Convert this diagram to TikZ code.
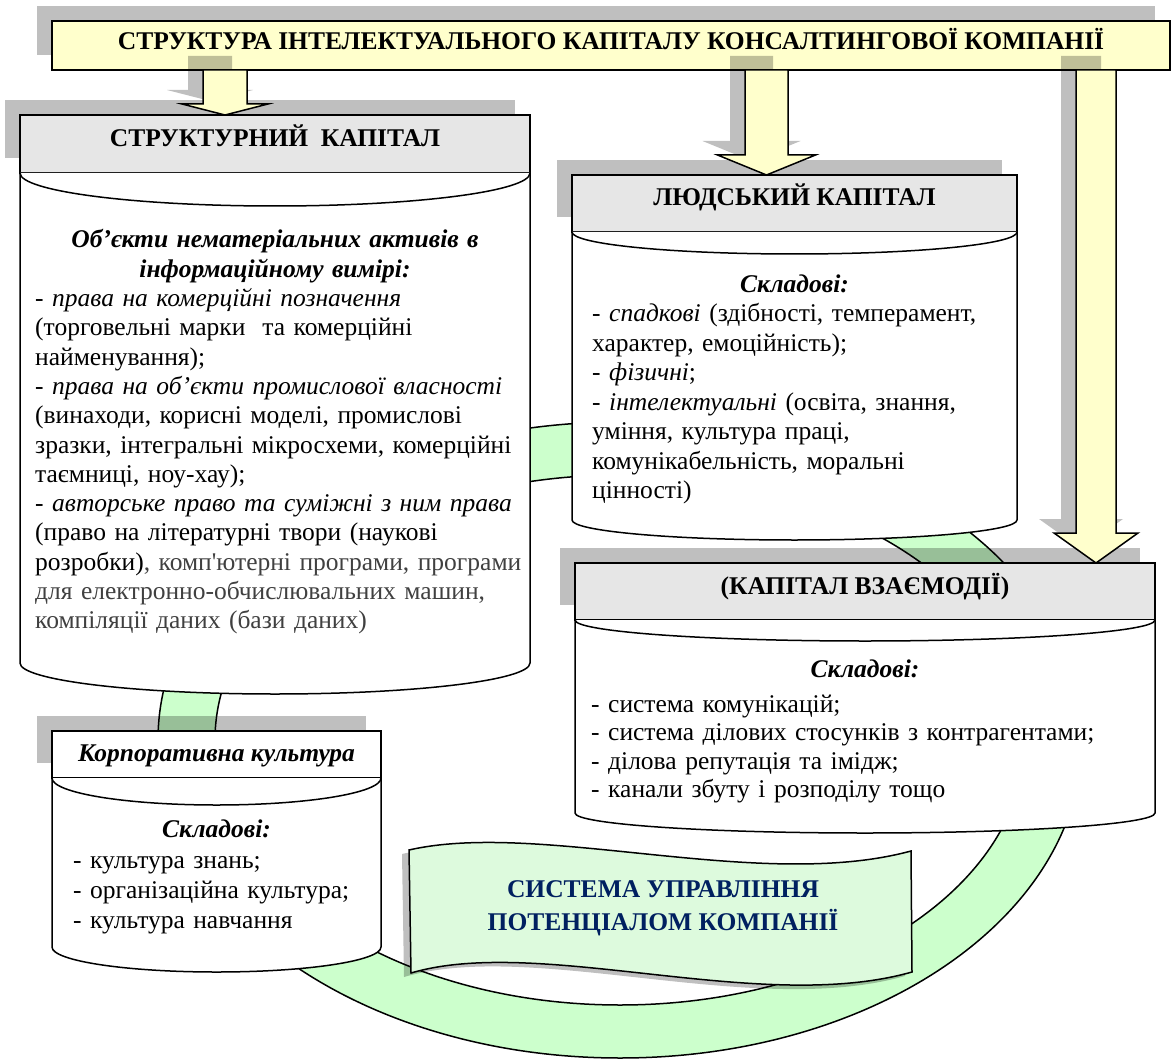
\documentclass[tikz,border=0pt]{standalone}
\usepackage{fontspec}
\setmainfont{Liberation Serif}
\usetikzlibrary{shadows,calc}

\definecolor{titleyellow}{RGB}{255,255,204}
\definecolor{headgray}{RGB}{230,230,230}
\definecolor{ringgreen}{RGB}{204,255,204}
\definecolor{bannergreen}{RGB}{221,250,221}
\definecolor{bannernavy}{RGB}{0,32,96}

\tikzset{
  boxline/.style={draw=black, line width=1.5pt},
  hshadow/.style={drop shadow={shadow xshift=-15pt, shadow yshift=15pt, fill=black, opacity=0.25}},
  headbox/.style={boxline, hshadow, fill=headgray, inner sep=0pt, outer sep=0pt,
    text height=17pt, text depth=12pt, font=\fontsize{25.5}{29.4}\selectfont\bfseries},
  titlebox/.style={boxline, hshadow, fill=titleyellow, inner sep=0pt, outer sep=0pt,
    minimum width=1118pt, minimum height=49pt, text height=17pt, text depth=8pt,
    font=\fontsize{25.5}{29.4}\selectfont\bfseries},
  headtext/.style={inner sep=0pt, anchor=base, align=center,
    font=\fontsize{25.5}{29.3}\selectfont\bfseries\itshape},
  listtext/.style={inner sep=0pt, anchor=base west, align=left,
    font=\fontsize{25.5}{29.3}\selectfont},
  bannertext/.style={inner sep=0pt, align=center, text=bannernavy,
    font=\fontsize{25.5}{33}\selectfont\bfseries}
}

% велика стрілка: #1 звідки, #2 куди, #3 вісь, #4 пів-ширини, #5 пів-голови, #6 довжина голови
\newcommand{\blockarrow}[6]{%
  \fill[black, opacity=0.25] let \p1=(#1.south -| #3), \p2=(#2.north -| #3) in
    (\x1-#4pt-15pt,\y1+14pt) -- (\x1-#4pt-15pt,\y2+#6pt+14pt) -- (\x1-#5pt-15pt,\y2+#6pt+14pt)
    -- (\x2-15pt,\y2+14pt) -- (\x1+#5pt-15pt,\y2+#6pt+14pt) -- (\x1+#4pt-15pt,\y2+#6pt+14pt)
    -- (\x1+#4pt-15pt,\y1+14pt) -- cycle;
  \draw[boxline, fill=titleyellow] let \p1=(#1.south -| #3), \p2=(#2.north -| #3) in
    (\x1-#4pt,\y1) -- (\x1-#4pt,\y2+#6pt) -- (\x1-#5pt,\y2+#6pt) -- (\x2,\y2)
    -- (\x1+#5pt,\y2+#6pt) -- (\x1+#4pt,\y2+#6pt) -- (\x1+#4pt,\y1) -- cycle;
}

\begin{document}
\begin{tikzpicture}[x=1pt, y=-1pt]
\useasboundingbox (0,0) rectangle (1172,1059);

% зелене кільце позаду всього
\fill[ringgreen, even odd rule] (620,740) ellipse [x radius=462pt, y radius=318pt]
  (620,740) ellipse [x radius=405pt, y radius=265pt];
\draw[boxline] (620,740) ellipse [x radius=462pt, y radius=318pt];
\draw[boxline] (620,740) ellipse [x radius=405pt, y radius=265pt];

% хвиляста стрічка з тінню
\fill[black, opacity=0.25] (402,854) .. controls (533,824) and (753,896) .. (904,855)
  -- (905,976) .. controls (753,1019) and (533,939) .. (404,977) -- cycle;
\draw[boxline, fill=bannergreen] (409,850) .. controls (540,820) and (760,892) .. (911,851)
  -- (912,972) .. controls (760,1015) and (540,935) .. (411,973) -- cycle;
\node[bannertext] (manage) at (663,908) {СИСТЕМА УПРАВЛІННЯ\\ПОТЕНЦІАЛОМ КОМПАНІЇ};

% заголовок
\node[titlebox] (title) at (611,45.5) {СТРУКТУРА ІНТЕЛЕКТУАЛЬНОГО КАПІТАЛУ КОНСАЛТИНГОВОЇ КОМПАНІЇ};

% структурний капітал
\node[headbox, minimum width=510pt, minimum height=58pt] (struct) at (275,144) {СТРУКТУРНИЙ\ \ КАПІТАЛ};
\draw[boxline, fill=white] (struct.south west) -- ++(0,490)
  arc[start angle=180, end angle=360, x radius=255pt, y radius=31pt] -- (struct.south east);
\draw[boxline] (struct.south west) arc[start angle=180, end angle=360, x radius=255pt, y radius=33pt];
\node[headtext, text width=500pt] (structHead) at (275,248)
  {Об’єкти нематеріальних активів в\\інформаційному вимірі:};
\node[listtext, text width=500pt] (structList) at (35,306.6) {%
- \textit{права на комерційні позначення}\\
(торговельні марки\ \ та комерційні\\
найменування);\\
- \textit{права на об’єкти промислової власності}\\
(винаходи, корисні моделі, промислові\\
зразки, інтегральні мікросхеми, комерційні\\
таємниці, ноу-хау);\\
- \textit{авторське право та суміжні з ним права}\\
(право на літературні твори (наукові\\
розробки){\color{black!75}, комп\textquotesingle ютерні програми, програми}\\
{\color{black!75}для електронно-обчислювальних машин,}\\
{\color{black!75}компіляції даних (бази даних)}};

% людський капітал
\node[headbox, minimum width=445pt, minimum height=57pt] (human) at (794.5,203.5) {ЛЮДСЬКИЙ КАПІТАЛ};
\draw[boxline, fill=white] (human.south west) -- ++(0,288)
  arc[start angle=180, end angle=360, x radius=222.5pt, y radius=20pt] -- (human.south east);
\draw[boxline] (human.south west) arc[start angle=180, end angle=360, x radius=222.5pt, y radius=22pt];
\node[headtext] (humanHead) at (794.5,292) {Складові:};
\node[listtext, text width=420pt, font=\fontsize{25.5}{29.5}\selectfont] (humanList) at (592,321.5) {%
- \textit{спадкові} (здібності, темперамент,\\
характер, емоційність);\\
- \textit{фізичні};\\
- \textit{інтелектуальні} (освіта, знання,\\
уміння, культура праці,\\
комунікабельність, моральні\\
цінності)};

% капітал взаємодії
\node[headbox, minimum width=580pt, minimum height=57pt] (inter) at (865,591.5) {(КАПІТАЛ ВЗАЄМОДІЇ)};
\draw[boxline, fill=white] (inter.south west) -- ++(0,193)
  arc[start angle=180, end angle=360, x radius=290pt, y radius=20pt] -- (inter.south east);
\draw[boxline] (inter.south west) arc[start angle=180, end angle=360, x radius=290pt, y radius=21pt];
\node[headtext] (interHead) at (865,677) {Складові:};
\node[listtext, text width=560pt, font=\fontsize{25.5}{28.6}\selectfont] (interList) at (591,712) {%
- система комунікацій;\\
- система ділових стосунків з контрагентами;\\
- ділова репутація та імідж;\\
- канали збуту і розподілу тощо};

% корпоративна культура
\node[headbox, fill=white, minimum width=329pt, minimum height=47pt, text height=19pt, text depth=6pt,
  font=\fontsize{25.5}{29.4}\selectfont\bfseries\itshape] (corp) at (216.5,754.5) {Корпоративна культура};
\draw[boxline, fill=white] (corp.south west) -- ++(0,169)
  arc[start angle=180, end angle=360, x radius=164.5pt, y radius=25pt] -- (corp.south east);
\draw[boxline] (corp.south west) arc[start angle=180, end angle=360, x radius=164.5pt, y radius=27pt];
\node[headtext] (corpHead) at (216.5,837) {Складові:};
\node[listtext, text width=300pt, font=\fontsize{25.5}{30}\selectfont] (corpList) at (73,868) {%
- культура знань;\\
- організаційна культура;\\
- культура навчання};

% стрілки від заголовка
\coordinate (arrS) at (225,0);
\coordinate (arrL) at (766.5,0);
\coordinate (arrV) at (1096,0);
\blockarrow{title}{struct}{arrS}{22}{43}{11}
\blockarrow{title}{human}{arrL}{21.5}{49}{20}
\blockarrow{title}{inter}{arrV}{20}{42}{30}
\end{tikzpicture}
\end{document}
